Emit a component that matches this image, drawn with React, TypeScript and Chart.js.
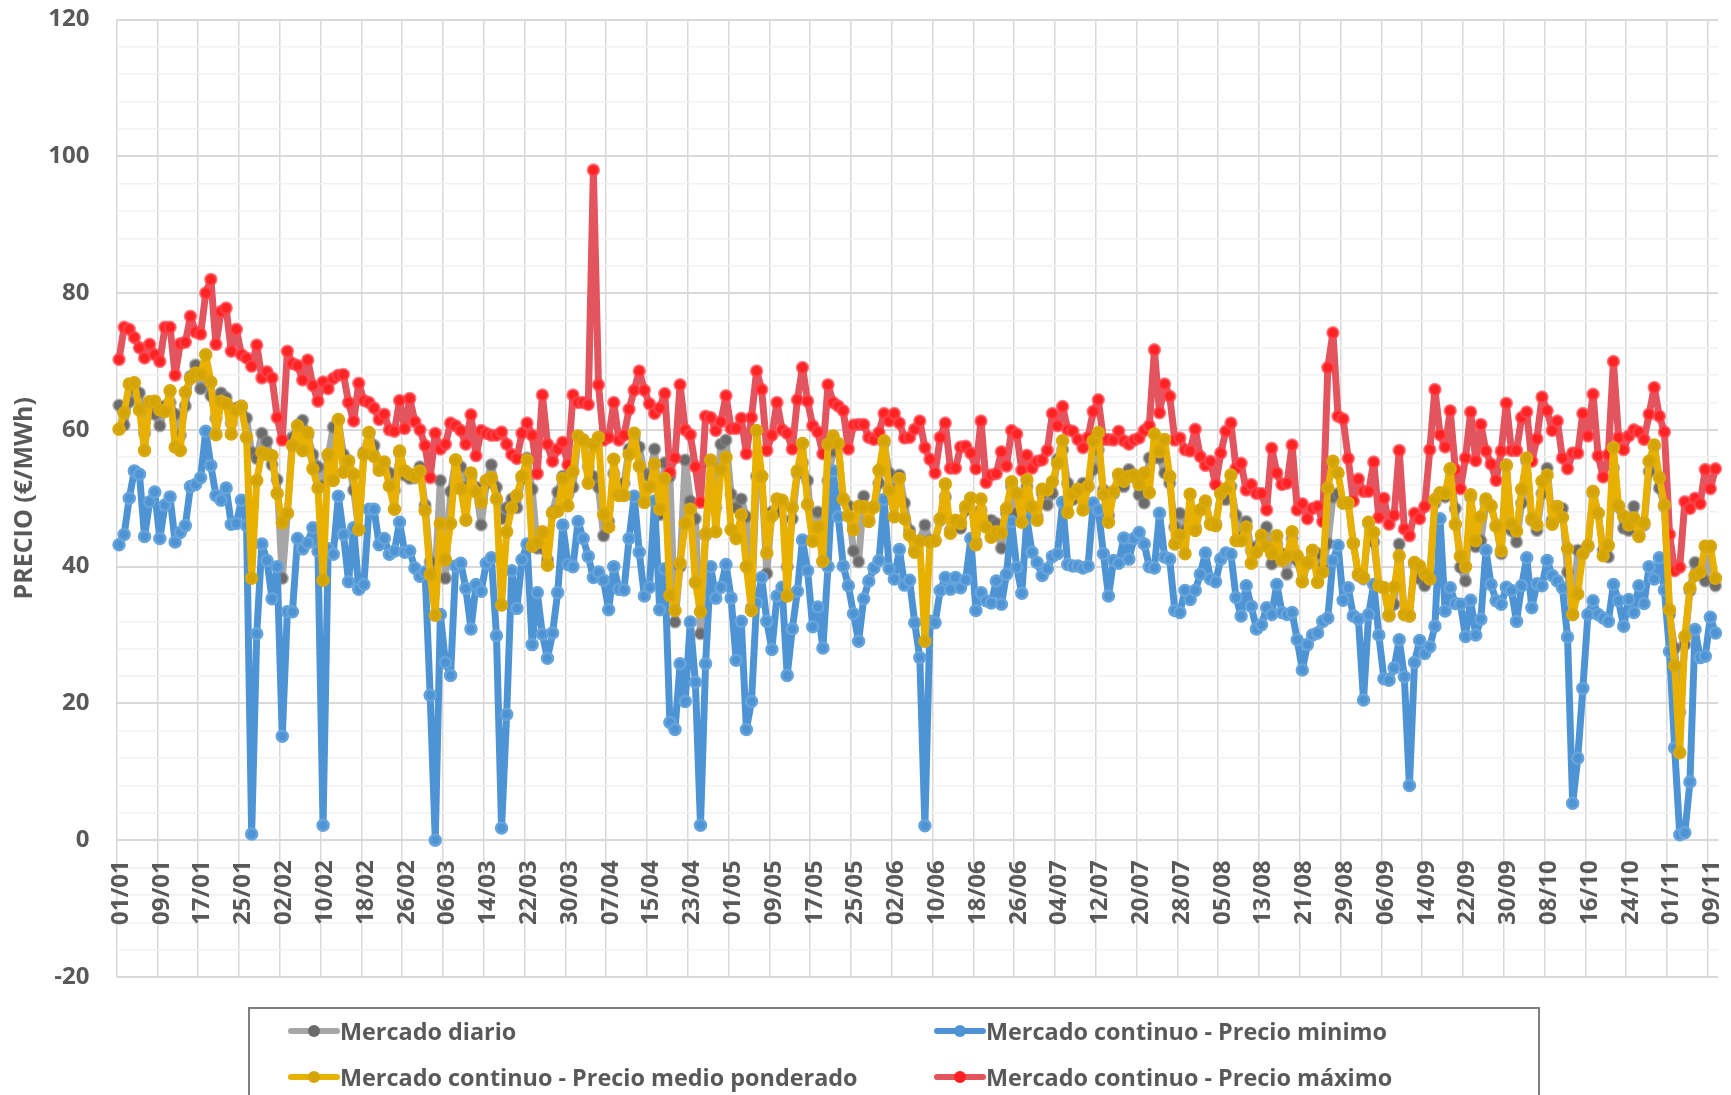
import React, { useEffect, useRef } from "react";
import { Chart, registerables } from "chart.js";

Chart.register(...registerables);

const tickLabels = ["01/01","09/01","17/01","25/01","02/02","10/02","18/02","26/02","06/03","14/03","22/03","30/03","07/04","15/04","23/04","01/05","09/05","17/05","25/05","02/06","10/06","18/06","26/06","04/07","12/07","20/07","28/07","05/08","13/08","21/08","29/08","06/09","14/09","22/09","30/09","08/10","16/10","24/10","01/11","09/11"];

const mercadoDiario = [
63.6,60.7,64.1,66,65.4,59.5,64,62.3,60.6,63.5,
64,62.3,59.2,63.5,67.8,69.5,66,68.4,65,61.7,
65.4,64.7,61,63.2,63.5,61.7,56.7,55.8,59.5,58.3,
54.9,52.7,38.3,47.8,58.9,60.6,61.4,59.2,56.4,54.6,
51.8,56.1,60.4,61.4,56.4,55.5,51.2,45.4,56.7,59.5,
57.7,54.9,54.3,53.7,51.2,56.7,53.4,52.9,53,54.6,
49,40.7,38.9,52.6,38.3,51,55.6,54.6,51.6,53.2,
51.6,46.1,52.2,54.9,51.6,47,48.6,49.9,48.6,52.9,
55.9,51.3,42.7,42.7,41,48,50.9,53.2,50.6,51.6,
59,58.5,54.6,53.2,51.6,44.5,46.6,53.6,51.9,52.2,
57.2,58.9,57.5,53.6,53.2,57.2,47.6,55.2,53.2,31.9,
40,55.6,49.6,47,30.2,44.6,55.2,48.6,57.9,58.5,
50.6,48.6,49.9,47.3,34,53.2,53.2,39,48,48,
49.3,40,47,53.6,55.2,52.6,44,48,40.7,52.6,
56.9,57.5,49.9,48.9,42.3,40.7,50.3,46.8,48.8,52.2,
58.1,53.7,51.2,53.4,49.3,45.3,42.4,43.8,46.1,43.8,
43.8,46.8,50.2,45.3,46.6,45.6,48.3,50,43.6,48.3,
46.1,46.8,46.3,42.7,47.8,51.7,47.8,46.8,51.7,48.3,
47.3,50.7,49,50.7,55.7,57.1,52.2,49.8,51.2,52.2,
51.7,54.2,57.1,51.2,47.5,50.7,53.2,51.7,54.2,53.2,
50.5,49.3,55.9,55.9,55.9,53.7,52.2,45.8,47.8,45.3,
46.8,45.8,48.3,49.3,46.3,46.3,50.7,49.8,51.7,47.5,
44.3,46.6,42.4,42.9,43.8,45.8,40.4,43.3,41.9,38.9,
44.1,40.9,37.9,40.4,41.9,41.9,39.9,43.4,50.2,50.7,
49.3,49.3,43.4,38.7,38.2,46.3,43.6,37.2,36.9,32.8,
34.5,43.3,33,32.8,40.4,38.2,37.2,38.9,49.3,50.7,
50.2,54.2,48.5,39.9,37.9,50.2,42.9,43.8,49.3,48.8,
46.1,41.9,54.9,45.3,43.6,49.3,55.4,46.8,45.3,50.7,
54.4,46.8,48.8,48.5,39.2,33,42.4,41.9,42.9,50.7,
47.8,42.4,41.4,54.4,48.8,45.6,45.3,48.8,44.6,46.1,
53.9,57.6,51.5,48.8,33,28.1,18.7,28.6,36.5,40.6,
38.9,37.9,42.9,37.2];

const precioMinimo = [
43.2,44.7,50,54,53.5,44.4,49.5,50.9,44.1,49,
50.2,43.6,45,46,51.7,52,53,59.8,54.8,50.4,
49.7,51.5,46.2,46.3,49.7,46,0.9,30.2,43.3,40.9,
35.3,40,15.2,33.4,33.4,44.1,42.6,43.5,45.7,42.3,
2.2,42.6,41.8,50.3,44.7,37.8,45.7,36.7,37.4,48.4,
48.4,43.2,44.1,41.8,42.3,46.5,42.1,42.3,39.8,38.6,
39.2,21.2,0,33,26,24.1,40.1,40.5,36.8,30.9,
37.4,36.4,40.5,41.3,29.9,1.8,18.4,39.4,33.9,41,
43.3,28.6,36.2,30.1,26.6,30.3,36.2,46.1,40.3,40,
46.6,44.1,41.5,38.4,39.2,38,33.7,40,36.7,36.6,
44.1,50.3,42.1,35.7,37,49.6,33.7,39.7,17.2,16.2,
25.8,20.3,31.9,23.1,2.2,25.8,40,35.4,37,40.3,
35.4,26.3,32,16.2,20.3,34.7,38.4,32,27.9,35.7,
37,24.1,30.9,36.4,43.9,39.4,31.2,34.1,28.1,40,
54,47.3,40.1,37.2,33.1,29.1,35.3,37.9,39.8,40.9,
49.8,39.7,38.2,42.5,37.3,38,31.8,26.7,2.1,32,
31.8,36.5,38.4,36.7,38.4,36.9,38.1,44.1,33.6,36.2,
35,34.7,37.9,34.5,38.9,46.6,39.9,36.1,47,42.1,
40.6,38.7,39.7,41.5,41.9,49.4,40.3,40.1,40.1,39.8,
40.1,49.3,48.3,41.9,35.7,40.9,40.5,44.2,41.1,44.1,
45,43.3,40,39.8,47.8,41.4,41.1,33.6,33.3,36.5,
35.2,36.5,38.9,42,38.2,37.8,41.1,42,41.8,35.5,
32.8,37.2,34.2,30.9,31.5,34,33,37.4,33.3,33,
33.3,29.3,24.9,28.6,30,30.3,32,32.5,40.9,43.1,
35.1,36.9,32.8,32.3,20.5,33,37.4,30,23.6,23.4,
25.2,29.3,23.9,8,26,29.2,27.3,28.3,31.3,47,
33.5,36.9,34.6,34.5,29.8,35.1,30,32.3,42.4,37.4,
35,34.5,37,36.5,32,37.2,41.3,34,37.5,37.2,
40.9,38.7,37.9,36.9,29.7,5.4,12,22.2,33,35,
33,32.5,32,37.4,35,31.3,35.2,33.3,37.2,34.6,
40,38.2,41.3,36.6,27.6,13.5,0.8,1.1,8.5,30.8,
26.7,26.9,32.6,30.3];

const precioMedio = [
60.1,62.5,66.7,66.9,62.9,57,64.1,64.2,62.9,62.7,
65.7,57.5,57,65.5,67.5,68.3,68.1,71,67,59.3,
64.2,63.9,59.4,62.9,63.4,58.9,38.3,52.6,56.7,56.4,
56.2,50.7,46.4,47.8,57.7,60.6,57,59.6,54.3,51.5,
38,56.4,52.6,61.5,53.8,55.4,53.5,45.4,56.4,59.6,
56.1,54.1,55.3,51.8,48.4,56.9,54,53.5,53.2,54,
48.2,38.8,32.9,46.3,41,46.3,55.6,51.4,46.8,53.7,
50.9,49.4,52.6,53,49.9,34.4,45.1,48.6,50.4,53.2,
55.6,43,43.5,45.1,40.2,47.8,48.1,52.9,48.9,53.9,
59.1,58.5,52.2,57.9,58.9,47.6,45.8,55.7,50.4,50.4,
56.4,59.5,54.7,49.4,51.6,55,48.4,52.9,35.8,33.6,
40.5,46.3,48.4,37.7,33.4,44.8,55.6,45.1,54.2,56,
45.4,44.1,47.6,40,33.6,59.9,53.2,42,47.4,49.9,
49.7,35.7,48.6,54,58,49.1,43.7,45.8,40.8,57.9,
59.1,58,49.9,47.4,45.4,48.8,48.8,46.6,48.7,54.1,
58.4,51.2,47.3,52.9,47,44.6,42.1,43.7,29.1,43.6,
43.8,47,52.1,44.9,46.8,46.3,48.8,50,43.2,49.9,
45.8,44.3,45.1,44.9,48.5,52.4,50.7,46.5,52.7,48.8,
46.8,51.3,51.2,52.4,55.1,58.4,47.9,50.6,51.3,48.3,
51.8,58.4,59.6,50.6,46.5,51,53.5,52.5,53.2,53.4,
52,53.7,50.8,59.4,56.8,58.6,53.2,43.3,44.6,41.9,
50.6,45.3,48.3,49.6,46.2,46,50.7,51.4,53.4,43.8,
43.8,45.8,40.5,42.1,44.6,43,41.9,44.5,40.9,41.5,
45.1,41.6,37.8,40.6,42.4,37.7,39.2,51.5,55.4,53.7,
49.3,49.3,43.4,38.9,38.4,46.5,45,37.2,36.9,32.9,
37,41.6,33,32.8,40.6,40.1,38.9,38.2,49.8,50.8,
50.7,54.3,46.2,41.5,40,50.5,43.8,47.3,49.9,48.9,
45.9,42.3,54.8,46.2,45.2,51.3,55.9,47,46.1,52.5,
53.4,46.2,48.8,47.2,42.6,33,36,41.9,43.1,51,
47.8,41.6,43.1,57.4,48.9,47.4,46.1,47.1,44.4,46.4,
55.4,57.8,53,49,33.7,25.5,12.8,29.8,36.9,38.7,
39.2,43,43,38.3];

const precioMaximo = [
70.3,75,74.7,73.5,72,70.5,72.5,71,70,75,
75,68,72.6,72.8,76.6,74.3,74,80,82,72.5,
77.3,77.8,71.5,74.7,71,70.5,69.3,72.4,67.6,68.5,
67.6,61.8,58.5,71.5,69.7,69.4,67.3,70.2,66.5,64.2,
67,66,67.5,68,68.1,64,61.3,66.8,64.3,64,
63.2,61.5,62.3,60,59.8,64.3,60.2,64.6,61.2,60,
57.7,53,59.5,57.2,57.9,61,60.6,59.9,57.9,62.2,
56.2,59.9,59.5,59.2,59.2,59.7,57.9,56.4,55.8,59.5,
61,59.2,53.6,65.1,57.9,55.4,57.2,58.2,54.9,65.1,
64,64,63.7,98,66.6,58.5,58.9,64,58.5,59.2,
63,65.8,68.6,65.8,63.8,62.4,63.2,65.3,53.8,55.9,
66.6,60,59.3,54.6,49.4,62,61.8,59.9,61.2,65,
60.2,60.2,61.7,56.5,61.8,68.6,65.9,57,59.2,64,
60,59.5,57.2,64.4,69.1,64.2,60.6,59.7,56.5,66.6,
64,63.5,62.8,57.2,60.7,60.8,60.8,58.9,58.6,59.6,
62.4,61.3,62.4,61,58.8,58.9,60.1,61.3,57.4,55.7,
53.7,58.9,61,54.4,54.4,57.5,57.6,56.6,54.3,61.3,
52.3,53.4,53.6,56.8,54.7,59.9,59.4,54.1,56.3,54.4,
55.4,55.6,57,62.4,60.6,63.4,60,59.8,58.6,57.4,
58.9,62.7,64.4,58.6,58.6,58.5,59.8,58.4,57.9,58.5,
58.8,59.9,60.6,71.7,62.5,66.7,64.9,58.5,58.8,57.1,
56.9,60.1,56.1,54.8,55.4,52,56.6,59.8,61,54.4,
55.1,51.2,52,50.7,50.7,48.3,57.3,53.7,52,52.2,
57.8,48.3,49.2,47,48.5,48.8,46.6,69.1,74.2,62,
61.6,55.8,49.6,52.8,51,51,55.3,47.2,50,46.2,
47.5,57,45.5,44.5,47.8,47,48.8,57.1,65.9,59.3,
57.5,62.8,54.2,51.4,55.9,62.6,55.5,60.8,56.9,55,
52.6,56.9,63.9,57,57,61.8,62.6,55.4,58.7,64.8,
62.8,59.9,61.3,55.9,54.3,56.6,56.6,62.4,59.1,65.2,
56.2,53.1,56.4,70,58.9,57.1,59.1,60,59.7,58.6,
62.3,66.2,62,59.7,44.7,39.4,39.9,49.5,48.5,50,
49.2,54.2,51.4,54.3];

const labels = precioMaximo.map((_, i) => (i % 8 === 0 ? tickLabels[i / 8] : ""));

const TEXT = "#595959";
const FONT = '"Open Sans", sans-serif';

const series = [
  { label: "Mercado continuo - Precio medio ponderado", data: precioMedio, line: "#E8B000", fill: "#D4A406", ring: "#D9A80A", order: 1 },
  { label: "Mercado continuo - Precio minimo", data: precioMinimo, line: "#4E94D4", fill: "#4E94D4", ring: "#65A3DB", order: 2 },
  { label: "Mercado continuo - Precio máximo", data: precioMaximo, line: "#E2555E", fill: "#FF2222", ring: "rgba(255,70,80,0.7)", order: 3 },
  { label: "Mercado diario", data: mercadoDiario, line: "#A6A6A6", fill: "#6B6B6B", ring: "rgba(130,130,130,0.55)", order: 4 },
];

const legendRows = [
  { name: "Mercado diario", x: 288, y: 1031 },
  { name: "Mercado continuo - Precio medio ponderado", x: 288, y: 1077 },
  { name: "Mercado continuo - Precio minimo", x: 934, y: 1031 },
  { name: "Mercado continuo - Precio máximo", x: 934, y: 1077 },
];

export default function App() {
  const ref = useRef<HTMLCanvasElement>(null);
  useEffect(() => {
    const chart = new Chart(ref.current!, {
      type: "line",
      data: {
        labels,
        datasets: series.map((s) => ({
          label: s.label,
          data: s.data,
          order: s.order,
          borderColor: s.line,
          borderWidth: 7,
          borderJoinStyle: "round",
          borderCapStyle: "round",
          tension: 0,
          pointRadius: 5.5,
          pointBorderWidth: 2.5,
          pointBackgroundColor: s.fill,
          pointBorderColor: s.ring,
        })),
      },
      options: {
        animation: false,
        responsive: false,
        layout: { padding: { left: 0, right: 13, top: 19.5, bottom: 118 } },
        plugins: { legend: { display: false }, tooltip: { enabled: false } },
        scales: {
          x: {
            type: "category",
            offset: true,
            position: { y: 0 } as any,
            afterFit: (s: any) => { s.paddingLeft = 0; s.paddingRight = 0; s.paddingTop = 0; s.paddingBottom = 0; },
            border: { display: true, color: "#D9D9D9", width: 2 },
            grid: {
              offset: true,
              drawTicks: false,
              lineWidth: 1.5,
              color: (c: any) => (c.index % 8 === 0 ? "#D9D9D9" : "rgba(0,0,0,0)"),
            },
            ticks: {
              autoSkip: false,
              minRotation: 90,
              maxRotation: 90,
              padding: 20,
              labelOffset: 2,
              color: TEXT,
              font: { family: FONT, size: 24, weight: "bold" },
            },
          },
          y: {
            min: -20,
            max: 120,
            afterFit: (s: any) => { s.width = 116.5; s.paddingTop = 0; s.paddingBottom = 0; s.paddingLeft = 0; s.paddingRight = 0; },
            border: { display: false },
            grid: {
              drawTicks: false,
              lineWidth: (c: any) => (c.tick.value % 20 === 0 ? 2 : 1.5),
              color: (c: any) => (c.tick.value % 20 === 0 ? "#D9D9D9" : "#F2F2F2"),
            },
            ticks: {
              stepSize: 4,
              autoSkip: false,
              padding: 27,
              color: TEXT,
              font: { family: FONT, size: 24, weight: "bold" },
              callback: (v: any) => (Number(v) % 20 === 0 ? String(v) : ""),
            },
            title: {
              display: true,
              text: "PRECIO (€/MWh)",
              color: TEXT,
              padding: { top: 10, bottom: 0 },
              font: { family: FONT, size: 25, weight: "bold" },
            },
          },
        },
      },
    });
    return () => chart.destroy();
  }, []);

  return (
    <div style={{ position: "absolute", left: 0, top: 0, width: 1731, height: 1095, overflow: "hidden", background: "#fff" }}>
      <canvas ref={ref} width={1731} height={1095} style={{ position: "absolute", left: 0, top: 0, display: "block" }} />
      <div style={{ position: "absolute", left: 248, top: 1007, width: 1288, height: 120, border: "2px solid #7F7F7F", boxSizing: "content-box" }} />
      {legendRows.map((r) => {
        const s = series.find((d) => d.label === r.name)!;
        return (
          <React.Fragment key={r.name}>
            <div style={{ position: "absolute", left: r.x, top: r.y - 3, width: 52, height: 6, background: s.line, borderRadius: 3 }} />
            <div style={{ position: "absolute", left: r.x + 20, top: r.y - 6, width: 12, height: 12, borderRadius: 6, background: s.fill }} />
            <div style={{ position: "absolute", left: r.x + 52, top: r.y - 18, lineHeight: "36px", whiteSpace: "nowrap", color: TEXT, fontFamily: FONT, fontWeight: 700, fontSize: 23.4 }}>
              {r.name}
            </div>
          </React.Fragment>
        );
      })}
    </div>
  );
}
